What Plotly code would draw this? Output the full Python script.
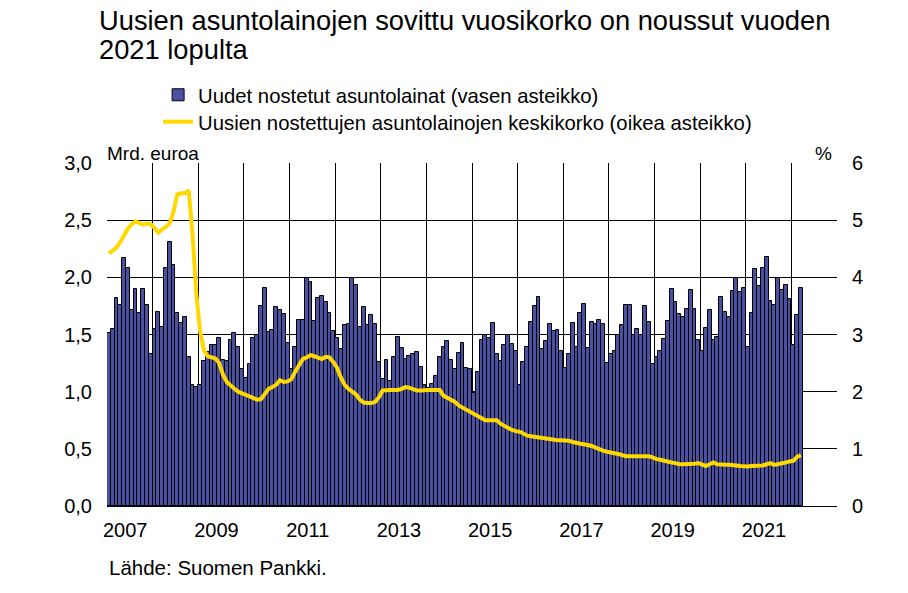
import plotly.graph_objects as go

first_year = 2007

# Monthly new housing loans drawn, bn EUR (left axis), Jan 2007 - Mar 2022
loans = [
    1.51, 1.55, 1.82, 1.76, 2.17, 2.08, 1.71, 1.90, 1.69, 1.90, 1.76, 1.33,  # 2007
    1.55, 1.70, 1.57, 2.08, 2.31, 2.11, 1.69, 1.60, 1.65, 1.30, 1.06, 1.04,  # 2008
    1.06, 1.27, 1.35, 1.41, 1.41, 1.47, 1.28, 1.27, 1.45, 1.51, 1.39, 1.20,  # 2009
    1.12, 1.24, 1.47, 1.50, 1.75, 1.91, 1.52, 1.54, 1.74, 1.71, 1.68, 1.43,  # 2010
    1.20, 1.39, 1.63, 1.63, 1.99, 1.96, 1.62, 1.82, 1.84, 1.78, 1.69, 1.53,  # 2011
    1.47, 1.37, 1.58, 1.59, 1.99, 1.93, 1.57, 1.74, 1.58, 1.67, 1.59, 1.26,  # 2012
    1.11, 1.28, 1.09, 1.30, 1.48, 1.38, 1.29, 1.31, 1.33, 1.35, 1.22, 1.06,  # 2013
    1.03, 1.07, 1.14, 1.30, 1.39, 1.44, 1.28, 1.20, 1.34, 1.43, 1.21, 1.20,  # 2014
    0.99, 1.17, 1.45, 1.50, 1.47, 1.60, 1.33, 1.27, 1.41, 1.50, 1.42, 1.36,  # 2015
    1.06, 1.26, 1.39, 1.61, 1.75, 1.83, 1.37, 1.44, 1.59, 1.53, 1.54, 1.36,  # 2016
    1.21, 1.33, 1.60, 1.39, 1.69, 1.77, 1.38, 1.61, 1.59, 1.63, 1.59, 1.25,  # 2017
    1.33, 1.36, 1.50, 1.58, 1.76, 1.76, 1.50, 1.55, 1.50, 1.75, 1.61, 1.24,  # 2018
    1.30, 1.36, 1.46, 1.62, 1.90, 1.78, 1.68, 1.65, 1.72, 1.89, 1.72, 1.45,  # 2019
    1.36, 1.56, 1.71, 1.45, 1.48, 1.83, 1.70, 1.65, 1.88, 1.99, 1.87, 1.91,  # 2020
    1.39, 1.69, 2.07, 1.92, 2.08, 2.18, 1.79, 1.76, 1.99, 1.89, 1.93, 1.81,  # 2021
    1.41, 1.67, 1.91,                                                        # 2022
]

# Average interest rate on new housing loans, % (right axis)
rate = [
    4.42, 4.48, 4.52, 4.62, 4.74, 4.85, 4.93, 4.98, 4.95, 4.92, 4.94, 4.93,  # 2007
    4.86, 4.78, 4.84, 4.88, 4.95, 5.15, 5.45, 5.47, 5.47, 5.52, 4.75, 3.70,  # 2008
    3.05, 2.72, 2.62, 2.60, 2.58, 2.50, 2.30, 2.17, 2.10, 2.05, 2.00, 1.97,  # 2009
    1.94, 1.91, 1.88, 1.86, 1.87, 1.97, 2.05, 2.08, 2.12, 2.20, 2.17, 2.18,  # 2010
    2.22, 2.35, 2.45, 2.57, 2.60, 2.64, 2.62, 2.59, 2.57, 2.61, 2.60, 2.52,  # 2011
    2.42, 2.25, 2.12, 2.05, 2.01, 1.95, 1.86, 1.81, 1.80, 1.80, 1.82, 1.90,  # 2012
    2.02, 2.03, 2.03, 2.03, 2.03, 2.05, 2.08, 2.07, 2.04, 2.02, 2.02, 2.03,  # 2013
    2.03, 2.03, 2.03, 2.03, 1.93, 1.89, 1.87, 1.82, 1.76, 1.72, 1.69, 1.66,  # 2014
    1.62, 1.57, 1.52, 1.50, 1.50, 1.50, 1.50, 1.44, 1.40, 1.36, 1.33, 1.31,  # 2015
    1.30, 1.27, 1.23, 1.22, 1.21, 1.19, 1.18, 1.17, 1.16, 1.15, 1.15, 1.15,  # 2016
    1.15, 1.14, 1.12, 1.10, 1.09, 1.08, 1.07, 1.05, 1.02, 0.99, 0.97, 0.95,  # 2017
    0.94, 0.93, 0.91, 0.89, 0.87, 0.87, 0.87, 0.87, 0.87, 0.87, 0.87, 0.85,  # 2018
    0.82, 0.81, 0.79, 0.78, 0.76, 0.75, 0.73, 0.73, 0.73, 0.73, 0.74, 0.75,  # 2019
    0.72, 0.70, 0.73, 0.76, 0.73, 0.72, 0.72, 0.72, 0.72, 0.71, 0.70, 0.69,  # 2020
    0.69, 0.70, 0.70, 0.70, 0.71, 0.73, 0.75, 0.72, 0.73, 0.75, 0.76, 0.78,  # 2021
    0.79, 0.86, 0.89,                                                        # 2022
]

year_labels = ["2007", "2009", "2011", "2013", "2015", "2017", "2019", "2021"]
left_ticks = [0.0, 0.5, 1.0, 1.5, 2.0, 2.5, 3.0]
right_ticks = [0, 1, 2, 3, 4, 5, 6]

name_loans = "Uudet nostetut asuntolainat (vasen asteikko)"
name_rate = "Uusien nostettujen asuntolainojen keskikorko (oikea asteikko)"
title_1 = "Uusien asuntolainojen sovittu vuosikorko on noussut vuoden"
title_2 = "2021 lopulta"
source = "Lähde: Suomen Pankki."

# month centres as decimal years
x = [first_year + (i + 0.5) / 12 for i in range(len(loans))]

FONT = "Liberation Sans, Arial, sans-serif"
BAR = "#4A51A3"
YELLOW = "#FFD800"
LEG_FONT = dict(size=20.3, family=FONT, color="black")

fig = go.Figure()
fig.add_trace(go.Bar(
    x=x, y=loans, width=1 / 12, name=name_loans, legend="legend",
    marker=dict(color=BAR, line=dict(color="black", width=1)),
))
fig.add_trace(go.Scatter(
    x=x, y=rate, yaxis="y2", mode="lines", name=name_rate, legend="legend2",
    line=dict(color=YELLOW, width=4),
))

fig.update_layout(
    width=908, height=593,
    margin=dict(l=107, r=71, t=163, b=87),
    paper_bgcolor="white", plot_bgcolor="white",
    font=dict(family=FONT, size=20, color="black"),
    separators=", ",
    bargap=0,
    showlegend=True,
    legend=dict(
        x=0.07, y=1.198, xanchor="left", yanchor="middle",
        font=LEG_FONT, bgcolor="rgba(0,0,0,0)", itemwidth=30,
    ),
    legend2=dict(
        x=0.07, y=1.1195, xanchor="left", yanchor="middle",
        font=LEG_FONT, bgcolor="rgba(0,0,0,0)", itemwidth=30,
    ),
    xaxis=dict(
        range=[first_year, first_year + 16],
        tickvals=[int(y) + 0.4 for y in year_labels],
        ticktext=year_labels,
        showgrid=False, ticks="", ticklabelstandoff=6,
        showline=True, linecolor="black", linewidth=1,
        zeroline=False,
        minor=dict(tickvals=list(range(first_year + 1, first_year + 16)),
                   showgrid=True, gridcolor="black", gridwidth=1, ticks=""),
    ),
    yaxis=dict(
        range=[0, 3], tickvals=left_ticks, tickformat=".1f",
        showgrid=True, gridcolor="black", gridwidth=1,
        zeroline=False, ticks="", ticklabelstandoff=14,
    ),
    yaxis2=dict(
        range=[0, 6], tickvals=right_ticks, overlaying="y", side="right",
        showgrid=False, zeroline=False, ticks="", ticklabelstandoff=14,
    ),
    annotations=[
        dict(text=title_1, xref="paper", yref="paper", x=-0.0133, y=1.414,
             xanchor="left", yanchor="middle", showarrow=False,
             font=dict(size=27.3, family=FONT)),
        dict(text=title_2, xref="paper", yref="paper", x=-0.0133, y=1.332,
             xanchor="left", yanchor="middle", showarrow=False,
             font=dict(size=27.3, family=FONT)),
        dict(text="Mrd. euroa", xref="paper", yref="paper", x=-0.003, y=1.029,
             xanchor="left", yanchor="middle", showarrow=False,
             font=dict(size=19, family=FONT)),
        dict(text="%", xref="paper", yref="paper", x=0.9963, y=1.029,
             xanchor="right", yanchor="middle", showarrow=False,
             font=dict(size=19, family=FONT)),
        dict(text=source, xref="paper", yref="paper", x=0.0, y=-0.178,
             xanchor="left", yanchor="middle", showarrow=False,
             font=dict(size=20.5, family=FONT)),
    ],
)

fig.write_html(
    "out.html",
    config={"displayModeBar": False},
    post_script="document.body.style.margin='0';document.body.style.padding='0';",
)
